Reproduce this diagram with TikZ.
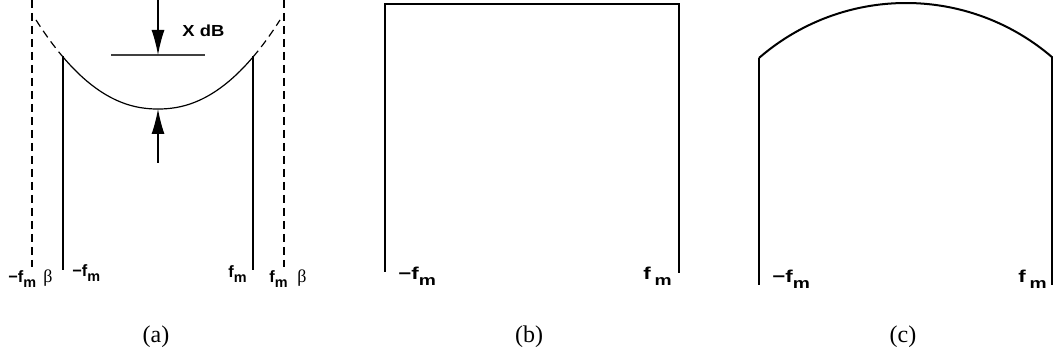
\documentclass[tikz,border=0pt]{standalone}
\usepackage{fontspec}
\setmainfont{Liberation Serif}
\newfontfamily\labfont{Liberation Sans}[BoldFont={* Bold}]
\usetikzlibrary{arrows.meta}
\newcommand\fmA[1]{{\fontsize{8.2}{8.2}\selectfont\labfont\bfseries #1f\raisebox{-0.28em}{\fontsize{7.2}{7.2}\selectfont m}}}
\newcommand\fmB[2]{\scalebox{1.3}[1]{\fontsize{8.6}{8.6}\selectfont\labfont\bfseries #1f#2\raisebox{-0.3em}{\fontsize{7.4}{7.4}\selectfont m}}}
\tikzset{
  thinline/.style={line width=0.6pt},
  dashline/.style={line width=0.6pt, dash pattern=on 4pt off 2.5pt},
  thickline/.style={line width=1.2pt},
  lab/.style={inner sep=0pt, anchor=base west},
  captext/.style={inner sep=0pt, font=\fontsize{12}{12}\selectfont},
  arr/.style={line width=0.6pt, -{Latex[length=12.5pt, width=6.5pt]}}
}
\begin{document}
\begin{tikzpicture}[x=0.5pt, y=-0.5pt]
\useasboundingbox (0,0) rectangle (1053,357);
% ---------- panel (a)
\coordinate (dl1) at (32,0); \coordinate (dl2) at (32,267);
\coordinate (dr1) at (284,0); \coordinate (dr2) at (284,267);
\coordinate (sl1) at (63,56); \coordinate (sl2) at (63,270);
\coordinate (sr1) at (253,56); \coordinate (sr2) at (253,270);
\draw[dashline] (dl1) -- (dl2);
\draw[dashline] (dr1) -- (dr2);
\draw[thinline] (sl1) -- (sl2);
\draw[thinline] (sr1) -- (sr2);
\draw[thinline] plot[domain=63:253, samples=100] (\x, {109-52*(abs(\x-158)/95)^2.15});
\draw[dashline] plot[domain=36:63, samples=20] (\x, {109-52*(abs(\x-158)/95)^2.15});
\draw[dashline] plot[domain=253:280, samples=20] (\x, {109-52*(abs(\x-158)/95)^2.15});
\coordinate (atop) at (158,0); \coordinate (ref) at (158,55);
\coordinate (abot) at (158,163); \coordinate (curv) at (158,109);
\coordinate (h1) at (111,55); \coordinate (h2) at (205,55);
\draw[line width=0.8pt, black!75] (h1) -- (h2);
\draw[arr] (atop) -- (ref);
\draw[arr] (abot) -- (curv);
\node[lab] (xdb) at (182,37) {\scalebox{1.15}[1]{\fontsize{8}{8}\selectfont\labfont\bfseries X dB}};
\node[lab] (la1) at (8,283) {\fmA{−}};
\node[lab] (lb1) at (43,283) {\fontsize{9}{9}\selectfont β};
\node[lab] (la2) at (72,277) {\fmA{−}};
\node[lab] (la3) at (228,278) {\fmA{}};
\node[lab] (la4) at (269,283) {\fmA{}};
\node[lab] (lb2) at (297,283) {\fontsize{9}{9}\selectfont β};
% ---------- panel (b)
\coordinate (b1) at (385,272); \coordinate (b2) at (385,4);
\coordinate (b3) at (679,4); \coordinate (b4) at (679,273);
\draw[thickline] (b1) -- (b2) -- (b3) -- (b4);
\node[lab] (lbl) at (398,280) {\fmB{−}{}};
\node[lab] (lbr) at (643,280) {\fmB{}{\,}};
% ---------- panel (c)
\coordinate (c1) at (759,285); \coordinate (c2) at (759,58);
\coordinate (c3) at (1052,58); \coordinate (c4) at (1052,285);
\draw[thickline] (c1) -- (c2);
\draw[thickline] (c3) -- (c4);
\draw[line width=1pt] plot[domain=131:49, samples=80] ({906+224*cos(\x)}, {227-224*sin(\x)});
\node[lab] (lcl) at (772,283) {\fmB{−}{}};
\node[lab] (lcr) at (1018,283) {\fmB{}{\,}};
% ---------- captions
\node[captext] (capa) at (156,337) {(a)};
\node[captext] (capb) at (529,337) {(b)};
\node[captext] (capc) at (903,337) {(c)};
\end{tikzpicture}
\end{document}
